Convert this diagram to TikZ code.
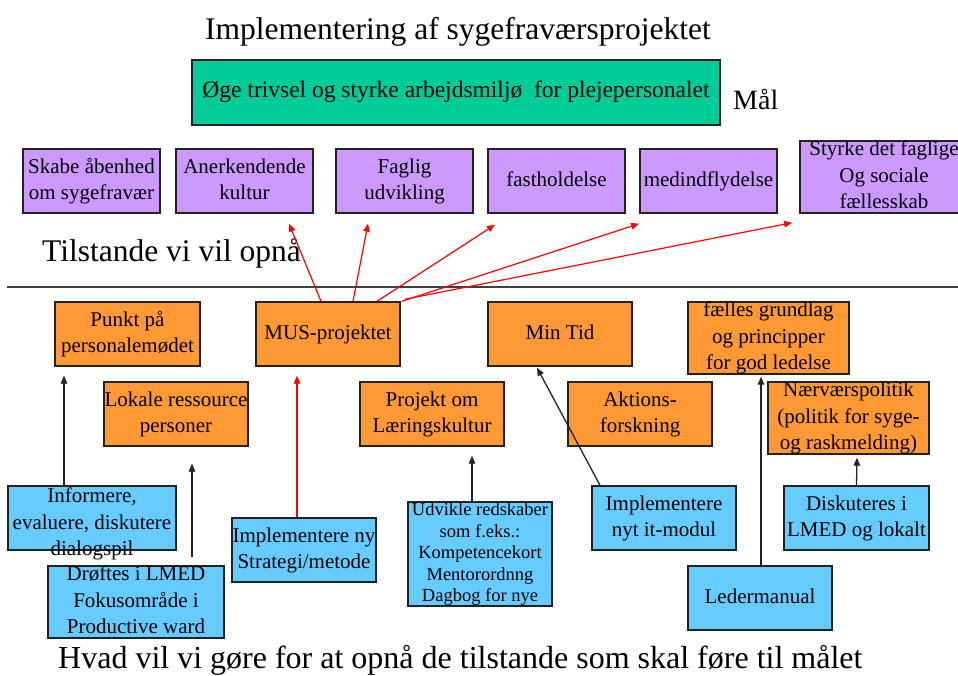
\documentclass[tikz,border=0pt]{standalone}
\usepackage{fontspec}
\setmainfont{Liberation Serif}
\usetikzlibrary{arrows.meta,calc}
\definecolor{goalgreen}{HTML}{00CC99}
\definecolor{statepurple}{HTML}{CC99FF}
\definecolor{projorange}{HTML}{FF9933}
\definecolor{actblue}{HTML}{66CCFF}
\definecolor{edgegray}{HTML}{222222}
\newcommand\bt[2][0pt]{\makebox[0pt]{\raisebox{\dimexpr-0.25em+#1\relax}[0pt][0pt]{\begin{tabular}{@{}c@{}}#2\end{tabular}}}}
\begin{document}
\begin{tikzpicture}[x=1pt,y=1pt,
  box/.style={draw=edgegray, line width=1.4pt, inner sep=0pt, text=black,
              font=\fontsize{21}{26.5}\selectfont},
  goalbox/.style={box, fill=goalgreen, font=\fontsize{23.5}{28}\selectfont},
  statebox/.style={box, fill=statepurple},
  projbox/.style={box, fill=projorange},
  actbox/.style={box, fill=actblue},
  biglabel/.style={inner sep=0pt, font=\fontsize{31.5}{36}\selectfont, text=black},
  blackarrow/.style={-{Triangle[length=8pt,width=6.5pt]}, line width=1.3pt, draw=edgegray},
  redarrow/.style={-{Triangle[length=8pt,width=6.5pt]}, line width=1.2pt, draw=red},
  sepline/.style={line width=1.6pt, draw=black!75}]
\useasboundingbox (0,0) rectangle (958,675);

% titles
\node[biglabel, anchor=base] (title) at (458,635) {Implementering af sygefraværsprojektet};
\node[goalbox, minimum width=528, minimum height=65] (goal) at (456,582.5)
  {\bt{Øge trivsel og styrke arbejdsmiljø\ \ for plejepersonalet}};
\node[biglabel, anchor=base west, font=\fontsize{28}{32}\selectfont] (maal) at (733,565) {Mål};

% states
\node[statebox, minimum width=137, minimum height=64] (p1) at (91.5,494) {\bt{Skabe åbenhed\\om sygefravær}};
\node[statebox, minimum width=137, minimum height=64] (p2) at (244.5,494) {\bt{Anerkendende\\kultur}};
\node[statebox, minimum width=137, minimum height=64] (p3) at (404.5,494) {\bt{Faglig\\udvikling}};
\node[statebox, minimum width=137, minimum height=64] (p4) at (556.5,494) {\bt{fastholdelse}};
\node[statebox, minimum width=137, minimum height=64] (p5) at (708.5,494) {\bt{medindflydelse}};
\node[statebox, minimum width=168, minimum height=72] (p6) at (884,498) {\bt{Styrke det faglige\\Og sociale\\fællesskab}};

\node[biglabel, anchor=base west] (tilstande) at (42,413) {Tilstande vi vil opnå};
\coordinate (sepL) at (7,388);
\coordinate (sepR) at (958,388);
\draw[sepline] (sepL) -- (sepR);

% projects
\node[projbox, minimum width=145, minimum height=64] (o1) at (127.5,341) {\bt{Punkt på\\personalemødet}};
\node[projbox, minimum width=144, minimum height=64] (o2) at (328,341) {\bt{MUS-projektet}};
\node[projbox, minimum width=144, minimum height=64] (o3) at (560,341) {\bt{Min Tid}};
\node[projbox, minimum width=161, minimum height=72] (o4) at (768.5,337) {\bt{fælles grundlag\\og principper\\for god ledelse}};
\node[projbox, minimum width=144, minimum height=64] (o5) at (176,261) {\bt{Lokale ressource\\personer}};
\node[projbox, minimum width=144, minimum height=64] (o6) at (432,261) {\bt{Projekt om\\Læringskultur}};
\node[projbox, minimum width=144, minimum height=64] (o7) at (640,261) {\bt{Aktions-\\forskning}};
\node[projbox, minimum width=161, minimum height=72] (o8) at (848.5,257) {\bt{Nærværspolitik\\(politik for syge-\\og raskmelding)}};

% actions
\node[actbox, minimum width=168, minimum height=64] (b1) at (92,157) {\bt[-6pt]{Informere,\\evaluere, diskutere\\dialogspil}};
\node[actbox, minimum width=176, minimum height=72] (b2) at (136,73) {\bt{Drøftes i LMED\\Fokusområde i\\Productive ward}};
\node[actbox, minimum width=144, minimum height=64] (b3) at (304,125) {\bt{Implementere ny\\Strategi/metode}};
\node[actbox, minimum width=144, minimum height=104, font=\fontsize{18.5}{21.5}\selectfont] (b4) at (480,121)
  {\bt{Udvikle redskaber\\som f.eks.:\\Kompetencekort\\Mentorordnng\\Dagbog for nye}};
\node[actbox, minimum width=144, minimum height=64] (b5) at (664,157) {\bt{Implementere\\nyt it-modul}};
\node[actbox, minimum width=144, minimum height=64] (b6) at (760,77) {\bt{Ledermanual}};
\node[actbox, minimum width=145, minimum height=64] (b7) at (856.5,157) {\bt{Diskuteres i\\LMED og lokalt}};

\node[biglabel, anchor=base west, font=\fontsize{32}{36}\selectfont] (hvad) at (58,7)
  {Hvad vil vi gøre for at opnå de tilstande som skal føre til målet};

% black arrows
\draw[blackarrow] ([xshift=-28pt]b1.north) -- ([xshift=-63.5pt,yshift=-9pt]o1.south);
\draw[blackarrow] ([xshift=56pt,yshift=8pt]b2.north) -- ([xshift=16pt,yshift=-17pt]o5.south);
\draw[blackarrow] ([xshift=-8pt]b4.north) -- ([xshift=40pt,yshift=-9pt]o6.south);
\draw[blackarrow] ([xshift=-64pt]b5.north) -- ([xshift=-23pt,yshift=-1pt]o3.south);
\draw[blackarrow] ([xshift=1pt]b6.north) -- ([xshift=-7.5pt,yshift=-2pt]o4.south);
\draw[blackarrow] (b7.north) -- ([xshift=8.5pt,yshift=-3pt]o8.south);

% red arrows
\draw[redarrow] ([xshift=-7pt]b3.north) -- ([xshift=-31pt,yshift=-9pt]o2.south);
\draw[redarrow] ([xshift=-7pt]o2.north) -- ([xshift=44.5pt,yshift=-10pt]p2.south);
\draw[redarrow] ([xshift=25pt]o2.north) -- ([xshift=-36.5pt,yshift=-10pt]p3.south);
\draw[redarrow] ([xshift=49pt]o2.north) -- ([xshift=-61.5pt,yshift=-11pt]p4.south);
\draw[redarrow] ([xshift=1pt]o2.north east) -- ([xshift=-69.5pt,yshift=-10pt]p5.south);
\draw[redarrow] ([xshift=4pt,yshift=2pt]o2.north east) -- ([xshift=-92pt,yshift=-9pt]p6.south);
\end{tikzpicture}
\end{document}
